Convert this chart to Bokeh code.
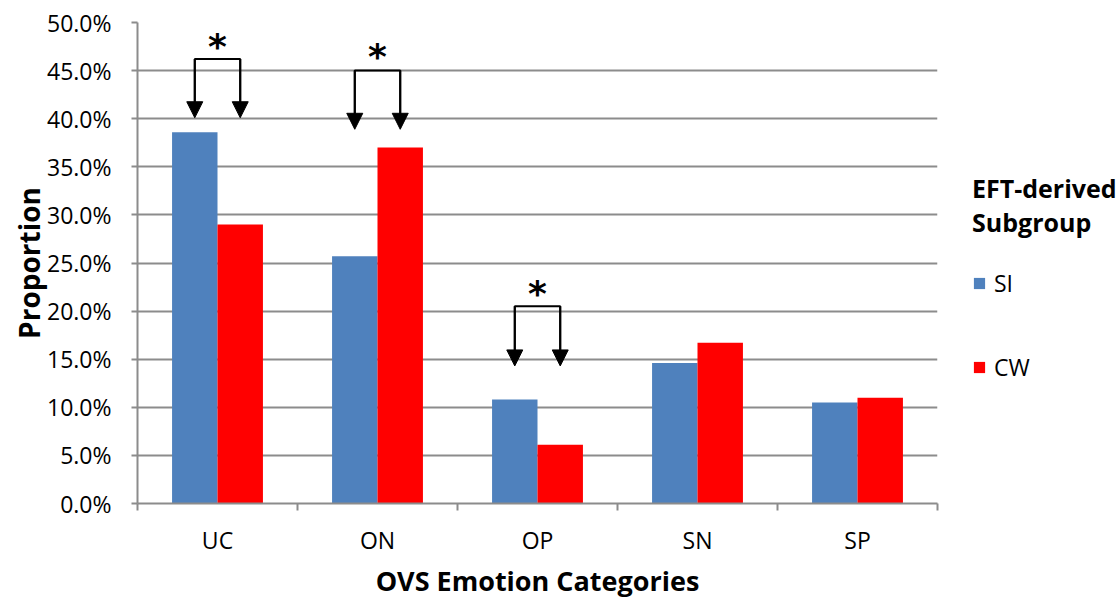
from bokeh.plotting import figure
from bokeh.models import (ColumnDataSource, Range1d, FixedTicker, NumeralTickFormatter,
                          Legend, LegendItem, Arrow, NormalHead)
from bokeh.core.properties import value
from bokeh.embed import file_html
from bokeh.resources import INLINE

categories = ["UC", "ON", "OP", "SN", "SP"]
si_values = [0.386, 0.257, 0.108, 0.146, 0.105]
cw_values = [0.290, 0.370, 0.061, 0.167, 0.110]
series_names = ["SI", "CW"]
y_ticks = [0.0, 0.05, 0.10, 0.15, 0.20, 0.25, 0.30, 0.35, 0.40, 0.45, 0.50]

# significance brackets (category index, bracket top, arrow tip, asterisk y)
sig_cats = [0, 1, 2]
sig_top = [0.462, 0.450, 0.205]
sig_tip = [0.401, 0.389, 0.143]
sig_star = [0.475, 0.465, 0.218]

BLUE = "#4F81BD"
RED = "#FF0000"
GRID = "#8C8C8C"
FONT = "Open Sans"

bar_w = 0.284
centers = [i + 0.5 for i in range(len(categories))]
src = ColumnDataSource(dict(
    x_si=[c - bar_w / 2 for c in centers],
    x_cw=[c + bar_w / 2 for c in centers],
    si=si_values, cw=cw_values,
))

p = figure(frame_width=800, frame_height=481, output_backend="svg", toolbar_location=None,
           x_range=Range1d(0, 5), y_range=Range1d(0, 0.5))
p.min_border_left = 137
p.min_border_right = 0
p.min_border_top = 22
p.min_border_bottom = 87
p.outline_line_color = None
p.background_fill_color = "white"

r_si = p.vbar(x="x_si", top="si", width=bar_w, source=src, fill_color=BLUE, line_color=None)
r_cw = p.vbar(x="x_cw", top="cw", width=bar_w, source=src, fill_color=RED, line_color=None)

# axes
xa = p.xaxis[0]
xa.ticker = FixedTicker(ticks=centers, minor_ticks=list(range(len(categories) + 1)))
xa.major_label_overrides = {c: name for c, name in zip(centers, categories)}
xa.major_tick_out = 0
xa.major_tick_in = 0
xa.minor_tick_out = 7
xa.minor_tick_in = 0
xa.minor_tick_line_color = GRID
xa.minor_tick_line_width = 2
xa.axis_line_color = GRID
xa.axis_line_width = 2
xa.major_label_standoff = 13
xa.major_label_text_font = FONT
xa.major_label_text_font_size = "23px"
xa.major_label_text_color = "black"
xa.axis_label = "OVS Emotion Categories"
xa.axis_label_text_font = FONT
xa.axis_label_text_font_size = "27px"
xa.axis_label_text_font_style = "bold"
xa.axis_label_text_color = "black"
xa.axis_label_standoff = 3

ya = p.yaxis[0]
ya.ticker = FixedTicker(ticks=y_ticks)
ya.formatter = NumeralTickFormatter(format="0.0%")
ya.major_tick_out = 6
ya.major_tick_in = 0
ya.minor_tick_out = 0
ya.minor_tick_in = 0
ya.major_tick_line_color = GRID
ya.major_tick_line_width = 2
ya.axis_line_color = GRID
ya.axis_line_width = 2
ya.major_label_standoff = 20
ya.major_label_text_font = FONT
ya.major_label_text_font_size = "23px"
ya.major_label_text_color = "black"
ya.axis_label = "Proportion"
ya.axis_label_text_font = FONT
ya.axis_label_text_font_size = "28px"
ya.axis_label_text_font_style = "bold"
ya.axis_label_text_color = "black"
ya.axis_label_standoff = -4

p.xgrid.grid_line_color = None
p.ygrid.ticker = FixedTicker(ticks=y_ticks)
p.ygrid.grid_line_color = GRID
p.ygrid.grid_line_width = 2
p.ygrid.level = "underlay"

# significance brackets
for ci, top, tip, sy in zip(sig_cats, sig_top, sig_tip, sig_star):
    xl = centers[ci] - bar_w / 2
    xr = centers[ci] + bar_w / 2
    p.line(x=[xl, xl, xr, xr], y=[tip + 0.01, top, top, tip + 0.01], line_color="black", line_width=2)
    for xx in (xl, xr):
        p.add_layout(Arrow(end=NormalHead(size=16, fill_color="black", line_color="black", line_width=1),
                           x_start=xx, y_start=top, x_end=xx, y_end=tip,
                           line_color="black", line_width=2))
    p.text(x=[centers[ci]], y=[sy], text=["*"], text_font=value("DejaVu Sans"),
           text_font_size="36px", text_font_style="bold", text_align="center",
           text_baseline="middle", text_color="black")

legend = Legend(items=[LegendItem(label=series_names[0], renderers=[r_si]),
                       LegendItem(label=series_names[1], renderers=[r_cw])],
                location=(35, 120))
legend.title = "EFT-derived\nSubgroup"
legend.title_text_font = FONT
legend.title_text_font_style = "bold"
legend.title_text_font_size = "25px"
legend.title_text_color = "black"
legend.title_standoff = 28
legend.label_text_font = FONT
legend.label_text_font_size = "23px"
legend.label_text_color = "black"
legend.glyph_width = 14
legend.glyph_height = 14
legend.label_standoff = 8
legend.spacing = 52
legend.border_line_color = None
legend.background_fill_alpha = 0
legend.padding = 0
legend.margin = 0
p.add_layout(legend, "right")

open("out.html", "w").write(file_html(p, INLINE))
